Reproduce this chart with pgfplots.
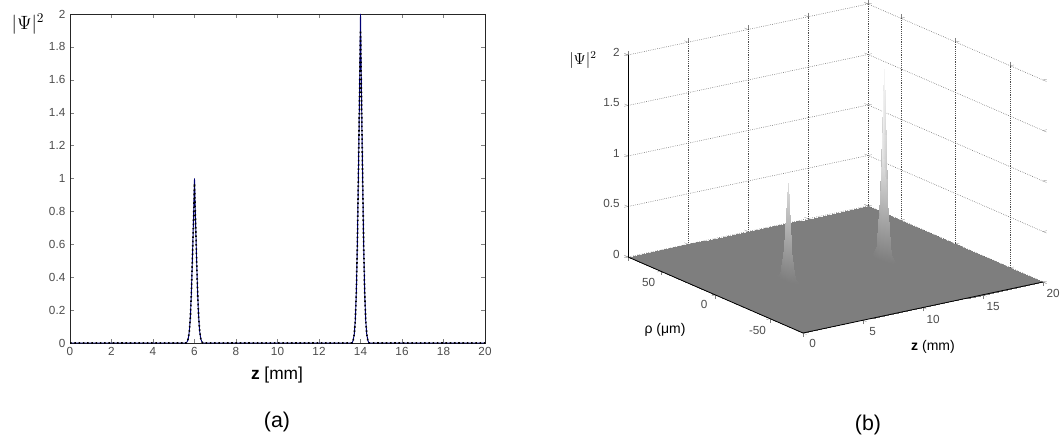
\documentclass[border=0pt]{standalone}
\usepackage{pgfplots}
\pgfplotsset{compat=1.18}
\usepackage{fontspec}
\setmainfont{Liberation Sans}

\begin{document}
\begin{tikzpicture}
\useasboundingbox (0,0) rectangle (797.25pt,330.75pt);
% ---------------- (a) ----------------
\begin{axis}[
  at={(52.5pt,73.5pt)}, anchor=south west,
  scale only axis, width=311.25pt, height=246.75pt,
  xmin=0, xmax=20, ymin=0, ymax=2,
  xtick={0,2,4,6,8,10,12,14,16,18,20},
  ytick={0,0.2,0.4,0.6,0.8,1,1.2,1.4,1.6,1.8,2},
  tick align=inside, xtick pos=both, ytick pos=both,
  major tick length=3pt,
  tick label style={font=\fontsize{8.8}{10}\selectfont, text=black!70},
  /pgf/number format/assume math mode=true,
  axis line style={black!85, line width=0.6pt},
  clip=false,
]
\addplot[color=blue!45!black, line width=0.7pt] coordinates {
(0,0) (5.6,0) (5.65,0.009) (5.7,0.027) (5.75,0.070) (5.8,0.157) (5.85,0.306)
(5.9,0.514) (5.95,0.744) (6.0,1.0) (6.05,0.744) (6.1,0.514) (6.15,0.306)
(6.2,0.157) (6.25,0.070) (6.3,0.027) (6.35,0.009) (6.4,0)
(13.6,0) (13.65,0.018) (13.7,0.054) (13.75,0.140) (13.8,0.314) (13.85,0.612)
(13.9,1.028) (13.95,1.488) (14.0,2.0) (14.05,1.488) (14.1,1.028) (14.15,0.612)
(14.2,0.314) (14.25,0.140) (14.3,0.054) (14.35,0.018) (14.4,0) (20,0)
};
\addplot[black, dotted, line width=1.2pt] coordinates {
(0,0) (5.6,0) (5.65,0.009) (5.7,0.027) (5.75,0.070) (5.8,0.157) (5.85,0.306)
(5.9,0.514) (5.95,0.744) (6.0,0.97) (6.05,0.744) (6.1,0.514) (6.15,0.306)
(6.2,0.157) (6.25,0.070) (6.3,0.027) (6.35,0.009) (6.4,0)
(13.6,0) (13.65,0.018) (13.7,0.054) (13.75,0.140) (13.8,0.314) (13.85,0.612)
(13.9,1.028) (13.95,1.488) (14.0,1.9) (14.05,1.488) (14.1,1.028) (14.15,0.612)
(14.2,0.314) (14.25,0.140) (14.3,0.054) (14.35,0.018) (14.4,0) (20,0)
};
\end{axis}
\node[font=\fontsize{13}{15}\selectfont] at (207.75pt,49.5pt) {\textbf{z} [mm]};
\node[font=\fontsize{14.5}{16}\selectfont] at (21pt,312.75pt) {$|\Psi|^2$};
\node[font=\fontsize{16}{18}\selectfont] at (207.75pt,14.25pt) {(a)};
% ---------------- (b) ----------------
\begin{axis}[
  at={(536.625pt,109.5pt)}, anchor=origin,
  x={(9pt,1.9125pt)}, y={(-0.8203pt,0.35625pt)}, z={(0pt,75.75pt)},
  disabledatascaling,
  xmin=0, xmax=20, ymin=-80, ymax=80, zmin=0, zmax=2,
  xtick={0,5,10,15,20}, ytick={-50,0,50}, ztick={0,0.5,1,1.5,2},
  grid=major, grid style={densely dotted, black!70},
  axis line style={draw=none},
  tick align=outside, major tick length=3pt,
  tick label style={font=\fontsize{8.8}{10}\selectfont, text=black!70},
  /pgf/number format/assume math mode=true,
  clip=false,
  colormap={gr}{rgb255=(126,126,126) rgb255=(245,245,245)},
  point meta min=0, point meta max=1.2,
]
\addplot3[surf, shader=interp, mesh/cols=16] table {
x y z
0 -80 0
5.7 -80 0
5.8 -80 0
5.9 -80 0
6.0 -80 0
6.1 -80 0
6.2 -80 0
6.3 -80 0
13.7 -80 0
13.8 -80 0
13.9 -80 0
14.0 -80 0
14.1 -80 0
14.2 -80 0
14.3 -80 0
20 -80 0
0 -9 0
5.7 -9 0
5.8 -9 0
5.9 -9 0
6.0 -9 0
6.1 -9 0
6.2 -9 0
6.3 -9 0
13.7 -9 0
13.8 -9 0
13.9 -9 0
14.0 -9 0
14.1 -9 0
14.2 -9 0
14.3 -9 0
20 -9 0
0 -6 0
5.7 -6 0
5.8 -6 0
5.9 -6 0.02
6.0 -6 0.05
6.1 -6 0.02
6.2 -6 0
6.3 -6 0
13.7 -6 0
13.8 -6 0
13.9 -6 0.04
14.0 -6 0.1
14.1 -6 0.04
14.2 -6 0
14.3 -6 0
20 -6 0
0 -3 0
5.7 -3 0
5.8 -3 0.03
5.9 -3 0.15
6.0 -3 0.3
6.1 -3 0.15
6.2 -3 0.03
6.3 -3 0
13.7 -3 0
13.8 -3 0.06
13.9 -3 0.3
14.0 -3 0.6
14.1 -3 0.3
14.2 -3 0.06
14.3 -3 0
20 -3 0
0 0 0
5.7 0 0
5.8 0 0.1
5.9 0 0.55
6.0 0 0.96
6.1 0 0.55
6.2 0 0.1
6.3 0 0
13.7 0 0
13.8 0 0.2
13.9 0 1.05
14.0 0 1.88
14.1 0 1.05
14.2 0 0.2
14.3 0 0
20 0 0
0 3 0
5.7 3 0
5.8 3 0.03
5.9 3 0.15
6.0 3 0.3
6.1 3 0.15
6.2 3 0.03
6.3 3 0
13.7 3 0
13.8 3 0.06
13.9 3 0.3
14.0 3 0.6
14.1 3 0.3
14.2 3 0.06
14.3 3 0
20 3 0
0 6 0
5.7 6 0
5.8 6 0
5.9 6 0.02
6.0 6 0.05
6.1 6 0.02
6.2 6 0
6.3 6 0
13.7 6 0
13.8 6 0
13.9 6 0.04
14.0 6 0.1
14.1 6 0.04
14.2 6 0
14.3 6 0
20 6 0
0 9 0
5.7 9 0
5.8 9 0
5.9 9 0
6.0 9 0
6.1 9 0
6.2 9 0
6.3 9 0
13.7 9 0
13.8 9 0
13.9 9 0
14.0 9 0
14.1 9 0
14.2 9 0
14.3 9 0
20 9 0
0 80 0
5.7 80 0
5.8 80 0
5.9 80 0
6.0 80 0
6.1 80 0
6.2 80 0
6.3 80 0
13.7 80 0
13.8 80 0
13.9 80 0
14.0 80 0
14.1 80 0
14.2 80 0
14.3 80 0
20 80 0
};
\draw[black, line width=0.6pt] (axis cs:0,80,0) -- (axis cs:0,80,2);
\draw[black, line width=0.6pt] (axis cs:0,80,0) -- (axis cs:0,-80,0) -- (axis cs:20,-80,0);
\end{axis}
\node[font=\fontsize{12}{14}\selectfont] at (437.25pt,285.75pt) {$|\Psi|^2$};
\node[font=\fontsize{10.5}{12}\selectfont] at (498.75pt,83.25pt) {ρ (μm)};
\node[font=\fontsize{10.5}{12}\selectfont] at (699.75pt,70.5pt) {\textbf{z} (mm)};
\node[font=\fontsize{16}{18}\selectfont] at (651pt,12pt) {(b)};
\end{tikzpicture}
\end{document}
